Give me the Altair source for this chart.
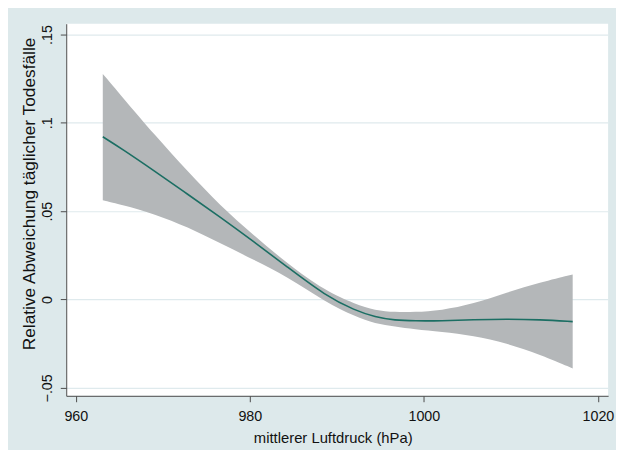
import altair as alt
import pandas as pd

# Air pressure (hPa)
pressure = [963.1, 965.25, 969.1, 972.85, 976.6, 980.45, 984.2, 988.7, 992.1,
            994.4, 996.7, 998.9, 1002.0, 1005.7, 1009.5, 1013.35, 1017.1]
# Relative deviation of daily deaths (fit)
fit = [0.0921, 0.0854, 0.0725, 0.0596, 0.0466, 0.0327, 0.0188, 0.0021, -0.0062,
       -0.0099, -0.0118, -0.0121, -0.0121, -0.0114, -0.0110, -0.0114, -0.0125]
# Confidence band
upper = [0.1277, 0.1151, 0.0929, 0.0725, 0.0531, 0.0364, 0.0207, 0.0047, -0.0025,
         -0.0062, -0.0071, -0.0071, -0.0062, -0.0025, 0.0040, 0.0096, 0.0142]
lower = [0.0562, 0.0536, 0.0484, 0.0410, 0.0318, 0.0225, 0.0132, -0.0014, -0.0097,
         -0.0136, -0.0153, -0.0168, -0.0182, -0.0204, -0.0247, -0.0312, -0.0390]

x_ticks = [960, 980, 1000, 1020]
y_ticks = [-0.05, 0, 0.05, 0.1, 0.15]

df = pd.DataFrame({"x": pressure, "fit": fit, "lo": lower, "hi": upper})

FONT = "Liberation Sans"
AXIS_COLOR = "#4a4a4a"

xscale = alt.Scale(domain=[958.9, 1021.17], nice=False, zero=False)
yscale = alt.Scale(domain=[-0.0545, 0.1561], nice=False, zero=False)

xaxis = alt.Axis(
    values=x_ticks, title="mittlerer Luftdruck (hPa)", grid=False, format="d",
    labelFont=FONT, labelFontSize=14.5, labelColor="#111111",
    labelBaseline="alphabetic", labelPadding=19, tickSize=6,
    tickColor=AXIS_COLOR, domainColor=AXIS_COLOR, labelFlush=False,
    titleFont=FONT, titleFontSize=15, titleFontWeight="normal", titleColor="#111111",
    titleX=270, titleY=47, titleBaseline="alphabetic", titleAlign="center",
)
yaxis = alt.Axis(
    values=y_ticks, title="Relative Abweichung täglicher Todesfälle",
    grid=True, gridColor="#dfeaed", gridWidth=1.2,
    labelExpr="datum.value == 0 ? '0' : replace(format(datum.value, '.2~f'), '0.', '.')",
    labelFont=FONT, labelFontSize=14.5, labelColor="#111111", labelAngle=270,
    labelAlign="center", labelBaseline="alphabetic", labelPadding=9, tickSize=6,
    tickColor=AXIS_COLOR, domainColor=AXIS_COLOR, labelFlush=False,
    titleFont=FONT, titleFontSize=17.5, titleFontWeight="normal", titleColor="#111111",
    titleX=-37, titleY=172, titleBaseline="middle", titleAngle=270, titleAlign="center",
)

band = alt.Chart(df).mark_area(color="#b4b7b9", opacity=1, interpolate="basis").encode(
    x=alt.X("x:Q", scale=xscale, axis=xaxis),
    y=alt.Y("lo:Q", scale=yscale, axis=yaxis),
    y2="hi:Q",
)
line = alt.Chart(df).mark_line(color="#1b6e63", strokeWidth=1.6, interpolate="basis").encode(
    x=alt.X("x:Q", scale=xscale),
    y=alt.Y("fit:Q", scale=yscale),
)

chart = (band + line).properties(
    width=549, height=377,
    autosize=alt.AutoSizeParams(type="none"),
    padding={"left": 59, "top": 13, "right": 8, "bottom": 52},
    background="#dde9eb",
).configure_view(fill="white", strokeWidth=0, stroke="transparent", strokeOpacity=0)

chart.save("out.html", embed_options={"renderer": "svg", "actions": False})
